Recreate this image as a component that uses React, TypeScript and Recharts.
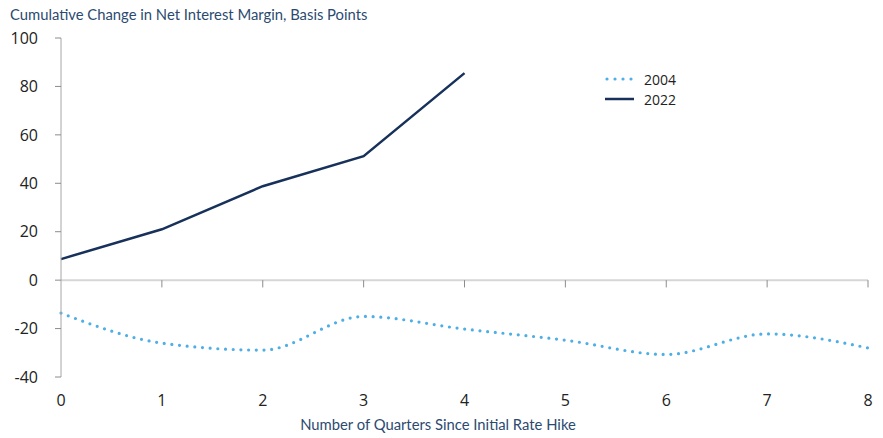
import React from "react";
import { LineChart, Line, XAxis, YAxis, ReferenceLine } from "recharts";

document.body.style.margin = "0";

// quarters since initial rate hike
const quarters = [0, 1, 2, 3, 4, 5, 6, 7, 8];
const nim2004 = [-13.6, -26, -28.9, -15, -20.2, -24.8, -30.7, -22.2, -28];
const nim2022 = [8.7, 21, 38.8, 51.2, 85.5];
const yTicks = [-40, -20, 0, 20, 40, 60, 80, 100];

const data = quarters.map((q, i) => ({
  q,
  y2004: nim2004[i],
  y2022: i < nim2022.length ? nim2022[i] : null,
}));

const COLOR_2004 = "#4eaee6";
const COLOR_2022 = "#17315a";
const NAVY_TEXT = "#2b4a70";

const LegendBox = () => (
  <div style={{ fontFamily: "Open Sans, sans-serif", fontSize: 14, color: "#222" }}>
    <div style={{ display: "flex", alignItems: "center", height: 20 }}>
      <svg width={34} height={10}>
        <line
          x1={3}
          y1={5}
          x2={30}
          y2={5}
          stroke={COLOR_2004}
          strokeWidth={3.2}
          strokeDasharray="0 8"
          strokeLinecap="round"
        />
      </svg>
      <span style={{ marginLeft: 6 }}>2004</span>
    </div>
    <div style={{ display: "flex", alignItems: "center", height: 20 }}>
      <svg width={34} height={10}>
        <line x1={1} y1={5} x2={30} y2={5} stroke={COLOR_2022} strokeWidth={2.5} />
      </svg>
      <span style={{ marginLeft: 6 }}>2022</span>
    </div>
  </div>
);

export default function App() {
  return (
    <div style={{ position: "relative", width: 883, height: 438, background: "#fff" }}>
      <div
        style={{
          position: "absolute",
          left: 10,
          top: 5,
          fontFamily: "Lato, sans-serif",
          fontSize: 14.8,
          color: NAVY_TEXT,
        }}
      >
        Cumulative Change in Net Interest Margin, Basis Points
      </div>
      <div style={{ position: "absolute", left: 604, top: 69, zIndex: 2 }}>
        <LegendBox />
      </div>
      <div
        style={{
          position: "absolute",
          left: 0,
          width: 876,
          top: 415,
          textAlign: "center",
          fontFamily: "Lato, sans-serif",
          fontSize: 14.8,
          color: NAVY_TEXT,
          zIndex: 2,
        }}
      >
        Number of Quarters Since Initial Rate Hike
      </div>
      <LineChart
        width={883}
        height={438}
        data={data}
        margin={{ top: 38, right: 15, left: 0, bottom: 0 }}
      >
        <XAxis
          dataKey="q"
          type="number"
          domain={[0, 8]}
          ticks={quarters}
          axisLine={false}
          tickLine={false}
          tickMargin={12}
          height={61}
          tick={{ fill: "#222", fontSize: 16, fontFamily: "Open Sans, sans-serif" }}
        />
        <YAxis
          domain={[-40, 100]}
          ticks={yTicks}
          width={61}
          axisLine={{ stroke: "#a6a6a6" }}
          tickLine={{ stroke: "#8c8c8c" }}
          tickSize={6}
          tickMargin={17}
          tick={{ fill: "#222", fontSize: 16, fontFamily: "Open Sans, sans-serif" }}
        />
        <ReferenceLine y={0} stroke="#d6d6d6" strokeWidth={2} />
        {quarters.slice(1).map((q) => (
          <ReferenceLine
            key={q}
            segment={[
              { x: q, y: 0 },
              { x: q, y: -3 },
            ]}
            stroke="#8c8c8c"
          />
        ))}
        <Line
          type="monotone"
          dataKey="y2004"
          stroke={COLOR_2004}
          strokeWidth={3.2}
          strokeDasharray="0 7.7"
          strokeLinecap="round"
          dot={false}
          isAnimationActive={false}
        />
        <Line
          type="linear"
          dataKey="y2022"
          stroke={COLOR_2022}
          strokeWidth={2.5}
          dot={false}
          connectNulls={false}
          isAnimationActive={false}
        />
      </LineChart>
    </div>
  );
}
